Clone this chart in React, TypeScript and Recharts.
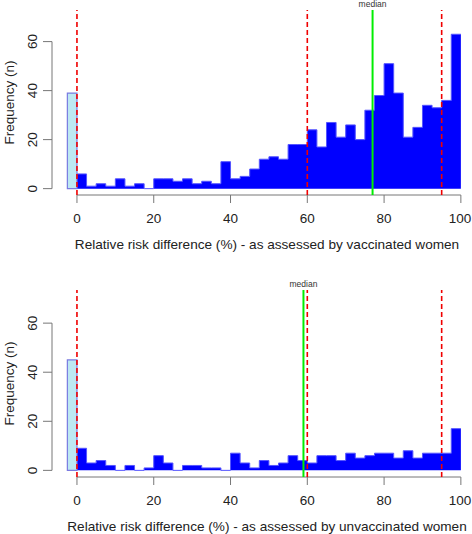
import {
  ComposedChart,
  Area,
  XAxis,
  YAxis,
  ReferenceLine,
  ReferenceArea,
} from "recharts";

// bin edges of the histogram (%), 2.5 wide
const binEdges = [
  0, 2.5, 5, 7.5, 10, 12.5, 15, 17.5, 20, 22.5, 25, 27.5, 30, 32.5, 35, 37.5,
  40, 42.5, 45, 47.5, 50, 52.5, 55, 57.5, 60, 62.5, 65, 67.5, 70, 72.5, 75,
  77.5, 80, 82.5, 85, 87.5, 90, 92.5, 95, 97.5, 100,
];

const vaccinatedCounts = [
  6, 1, 2, 1, 4, 1, 2, 0, 4, 4, 3, 4, 2, 3, 2, 11, 4, 5, 8, 12, 13, 12, 18, 18,
  24, 17, 27, 21, 26, 20, 32, 38, 51, 39, 21, 25, 34, 33, 36, 63,
];
const unvaccinatedCounts = [
  9, 3, 4, 2, 0, 2, 0, 1, 6, 3, 0, 2, 2, 1, 1, 0, 7, 3, 1, 4, 2, 3, 6, 4, 3, 6,
  6, 4, 7, 5, 6, 7, 7, 5, 8, 5, 7, 7, 7, 17,
];

// the "no difference / worse" bin drawn left of zero
const zeroBin = { from: -2.5, to: 0 };
const vaccinatedZero = 39;
const unvaccinatedZero = 45;

const vaccinatedMedian = 77;
const unvaccinatedMedian = 59;
const cutoffs = [0, 60, 95];

const xTicks = [0, 20, 40, 60, 80, 100];
const yTicks = [0, 20, 40, 60];

const FONT = '"Liberation Sans", Arial, sans-serif';
const AXIS = "#777";
const TEXT = "#222";

function toSteps(counts: number[]) {
  // last edge repeats the last bin so the step closes at 100
  return binEdges.map((x, i) => ({ x, n: counts[Math.min(i, counts.length - 1)] }));
}

const XTick = (props: any) => (
  <text
    x={props.x}
    y={props.y}
    dy="0.35em"
    textAnchor="middle"
    fontSize={13.5}
    fill={TEXT}
    fontFamily={FONT}
  >
    {props.payload.value}
  </text>
);

const YTick = (props: any) => (
  <text
    x={props.x}
    y={props.y}
    dy="0.35em"
    textAnchor="middle"
    fontSize={13.5}
    fill={TEXT}
    fontFamily={FONT}
    transform={`rotate(-90 ${props.x} ${props.y})`}
  >
    {props.payload.value}
  </text>
);

interface PanelProps {
  counts: number[];
  zero: number;
  median: number;
  title: string;
  top: number;
  bottom: number;
  yDomain: [number, number];
}

function Panel({ counts, zero, median, title, top, bottom, yDomain }: PanelProps) {
  const data = toSteps(counts);
  const xDomain: [number, number] = [-6.5, 102.9];
  return (
    <ComposedChart
      width={472}
      height={267}
      data={data}
      margin={{ top, right: 0, bottom: 0, left: 0 }}
    >
      <XAxis
        dataKey="x"
        type="number"
        domain={xDomain}
        allowDataOverflow
        ticks={xTicks}
        axisLine={false}
        tickLine={{ stroke: AXIS }}
        tickSize={8}
        tickMargin={15}
        height={bottom}
        tick={<XTick />}
        label={{
          content: ({ viewBox }: any) => (
            <text
              x={viewBox.x + viewBox.width / 2 + 5}
              y={viewBox.y + 49}
              dy="0.35em"
              textAnchor="middle"
              fontSize={13.6}
              fill={TEXT}
              fontFamily={FONT}
            >
              {title}
            </text>
          ),
        }}
      />
      <YAxis
        type="number"
        domain={yDomain}
        allowDataOverflow
        ticks={yTicks}
        axisLine={false}
        tickLine={{ stroke: AXIS }}
        tickSize={9}
        tickMargin={11}
        width={52}
        tick={<YTick />}
        label={{
          content: ({ viewBox }: any) => {
            const cy = viewBox.y + viewBox.height / 2;
            return (
              <text
                x={9}
                y={cy}
                dy="0.35em"
                textAnchor="middle"
                fontSize={13.5}
                fill={TEXT}
                fontFamily={FONT}
                transform={`rotate(-90 9 ${cy})`}
              >
                Frequency (n)
              </text>
            );
          },
        }}
      />
      <Area
        type="stepAfter"
        dataKey="n"
        baseValue={0}
        fill="#0000FF"
        fillOpacity={1}
        stroke="#5555FF"
        strokeWidth={1}
        isAnimationActive={false}
      />
      <ReferenceArea
        x1={zeroBin.from}
        x2={zeroBin.to}
        y1={0}
        y2={zero}
        fill="#BDE8F2"
        fillOpacity={1}
        stroke="#7A7AE0"
        strokeWidth={1.2}
        ifOverflow="visible"
      />
      <ReferenceLine
        segment={[{ x: 0, y: yDomain[0] }, { x: 100, y: yDomain[0] }]}
        stroke={AXIS}
        strokeWidth={1}
        ifOverflow="visible"
      />
      <ReferenceLine
        segment={[{ x: xDomain[0], y: 0 }, { x: xDomain[0], y: 60 }]}
        stroke={AXIS}
        strokeWidth={1}
        ifOverflow="visible"
      />
      {cutoffs.map((c) => (
        <ReferenceLine
          key={c}
          x={c}
          stroke="#F00000"
          strokeWidth={1.6}
          strokeDasharray="5 3"
          ifOverflow="visible"
        />
      ))}
      <ReferenceLine
        x={median}
        stroke="#00EE00"
        strokeWidth={2}
        ifOverflow="visible"
        label={{
          value: "median",
          position: "top",
          offset: 3,
          fontSize: 8.5,
          fill: "#333",
          fontFamily: FONT,
        }}
      />
    </ComposedChart>
  );
}

export default function App() {
  return (
    <div
      style={{
        position: "absolute",
        left: 0,
        top: 0,
        width: 472,
        height: 534,
        background: "#fff",
        fontFamily: FONT,
      }}
    >
      <Panel
        counts={vaccinatedCounts}
        zero={vaccinatedZero}
        median={vaccinatedMedian}
        title="Relative risk difference (%) - as assessed by vaccinated women"
        top={10}
        bottom={72}
        yDomain={[-2.6, 72.9]}
      />
      <Panel
        counts={unvaccinatedCounts}
        zero={unvaccinatedZero}
        median={unvaccinatedMedian}
        title="Relative risk difference (%) - as assessed by unvaccinated women"
        top={23}
        bottom={57}
        yDomain={[-2.7, 73.5]}
      />
    </div>
  );
}
